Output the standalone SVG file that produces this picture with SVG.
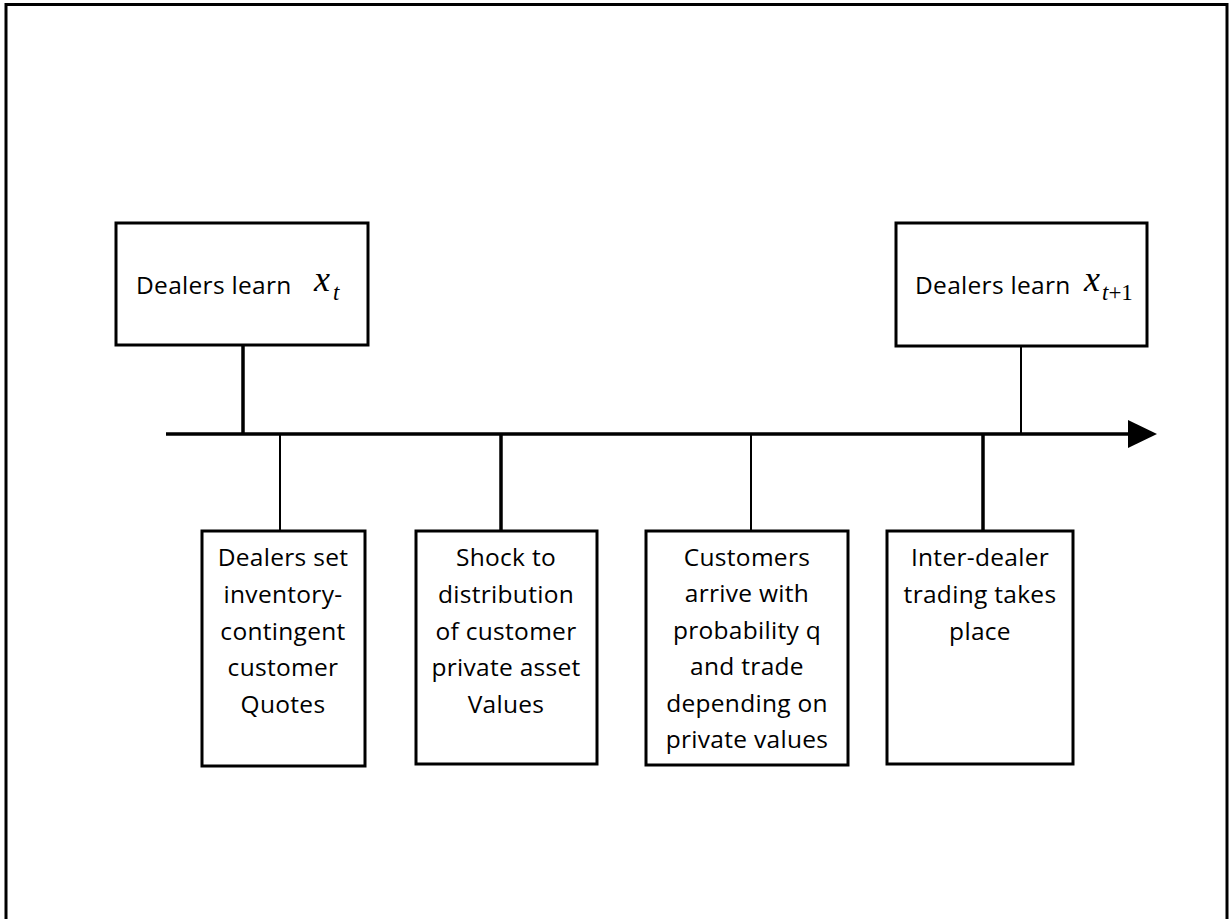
<svg xmlns="http://www.w3.org/2000/svg" width="1229" height="919" viewBox="0 0 1229 919">
<defs>
<style>
.box{fill:#fff;stroke:#000;stroke-width:3}
.t{font-family:"Open Sans","Liberation Sans",sans-serif;font-size:24.5px;letter-spacing:0.3px;fill:#000;text-anchor:middle}
.tl{font-family:"Open Sans","Liberation Sans",sans-serif;font-size:24.5px;letter-spacing:0.3px;fill:#000}
.m{font-family:"Liberation Serif",serif;font-style:italic;fill:#000}
.mr{font-family:"Liberation Serif",serif;fill:#000}
.thick{stroke:#000;stroke-width:3.5;fill:none}
.thin{stroke:#000;stroke-width:2;fill:none}
</style>
</defs>
<rect x="0" y="0" width="1229" height="919" fill="#fff"/>
<rect id="frame" x="6" y="4.5" width="1221" height="930" fill="none" stroke="#000" stroke-width="3"/>
<g id="connectors">
<line class="thick" x1="166" y1="434" x2="1130" y2="434"/>
<path d="M1128,420 L1157,434 L1128,448 z" fill="#000"/>
<line class="thick" x1="243" y1="345" x2="243" y2="434"/>
<line class="thin" x1="1021" y1="346" x2="1021" y2="434"/>
<line class="thin" x1="280" y1="434" x2="280" y2="530"/>
<line class="thick" x1="501" y1="434" x2="501" y2="530"/>
<line class="thin" x1="751" y1="434" x2="751" y2="530"/>
<line class="thick" x1="983" y1="434" x2="983" y2="530"/>
</g>
<g id="n1">
<rect class="box" x="116" y="223" width="252" height="122"/>
<text class="tl" x="136" y="294">Dealers learn</text>
<text class="m" x="314" y="291" font-size="36">x</text>
<text class="m" x="333" y="300" font-size="23">t</text>
</g>
<g id="n2">
<rect class="box" x="896" y="223" width="251" height="123"/>
<text class="tl" x="915" y="294">Dealers learn</text>
<text class="m" x="1084" y="291" font-size="36">x</text>
<text class="mr" x="1102" y="300" font-size="23"><tspan font-style="italic">t</tspan>+1</text>
</g>
<g id="n3">
<rect class="box" x="202" y="531" width="163" height="235"/>
<text class="t" x="283" y="566">Dealers set</text>
<text class="t" x="283" y="603">inventory-</text>
<text class="t" x="283" y="640">contingent</text>
<text class="t" x="283" y="676">customer</text>
<text class="t" x="283" y="713">Quotes</text>
</g>
<g id="n4">
<rect class="box" x="416" y="531" width="181" height="233"/>
<text class="t" x="506" y="566">Shock to</text>
<text class="t" x="506" y="603">distribution</text>
<text class="t" x="506" y="640">of customer</text>
<text class="t" x="506" y="676">private asset</text>
<text class="t" x="506" y="713">Values</text>
</g>
<g id="n5">
<rect class="box" x="646" y="531" width="202" height="234"/>
<text class="t" x="747" y="566">Customers</text>
<text class="t" x="747" y="602">arrive with</text>
<text class="t" x="747" y="639">probability q</text>
<text class="t" x="747" y="675">and trade</text>
<text class="t" x="747" y="712">depending on</text>
<text class="t" x="747" y="748">private values</text>
</g>
<g id="n6">
<rect class="box" x="887" y="531" width="186" height="233"/>
<text class="t" x="980" y="566">Inter-dealer</text>
<text class="t" x="980" y="603">trading takes</text>
<text class="t" x="980" y="640">place</text>
</g>
</svg>
